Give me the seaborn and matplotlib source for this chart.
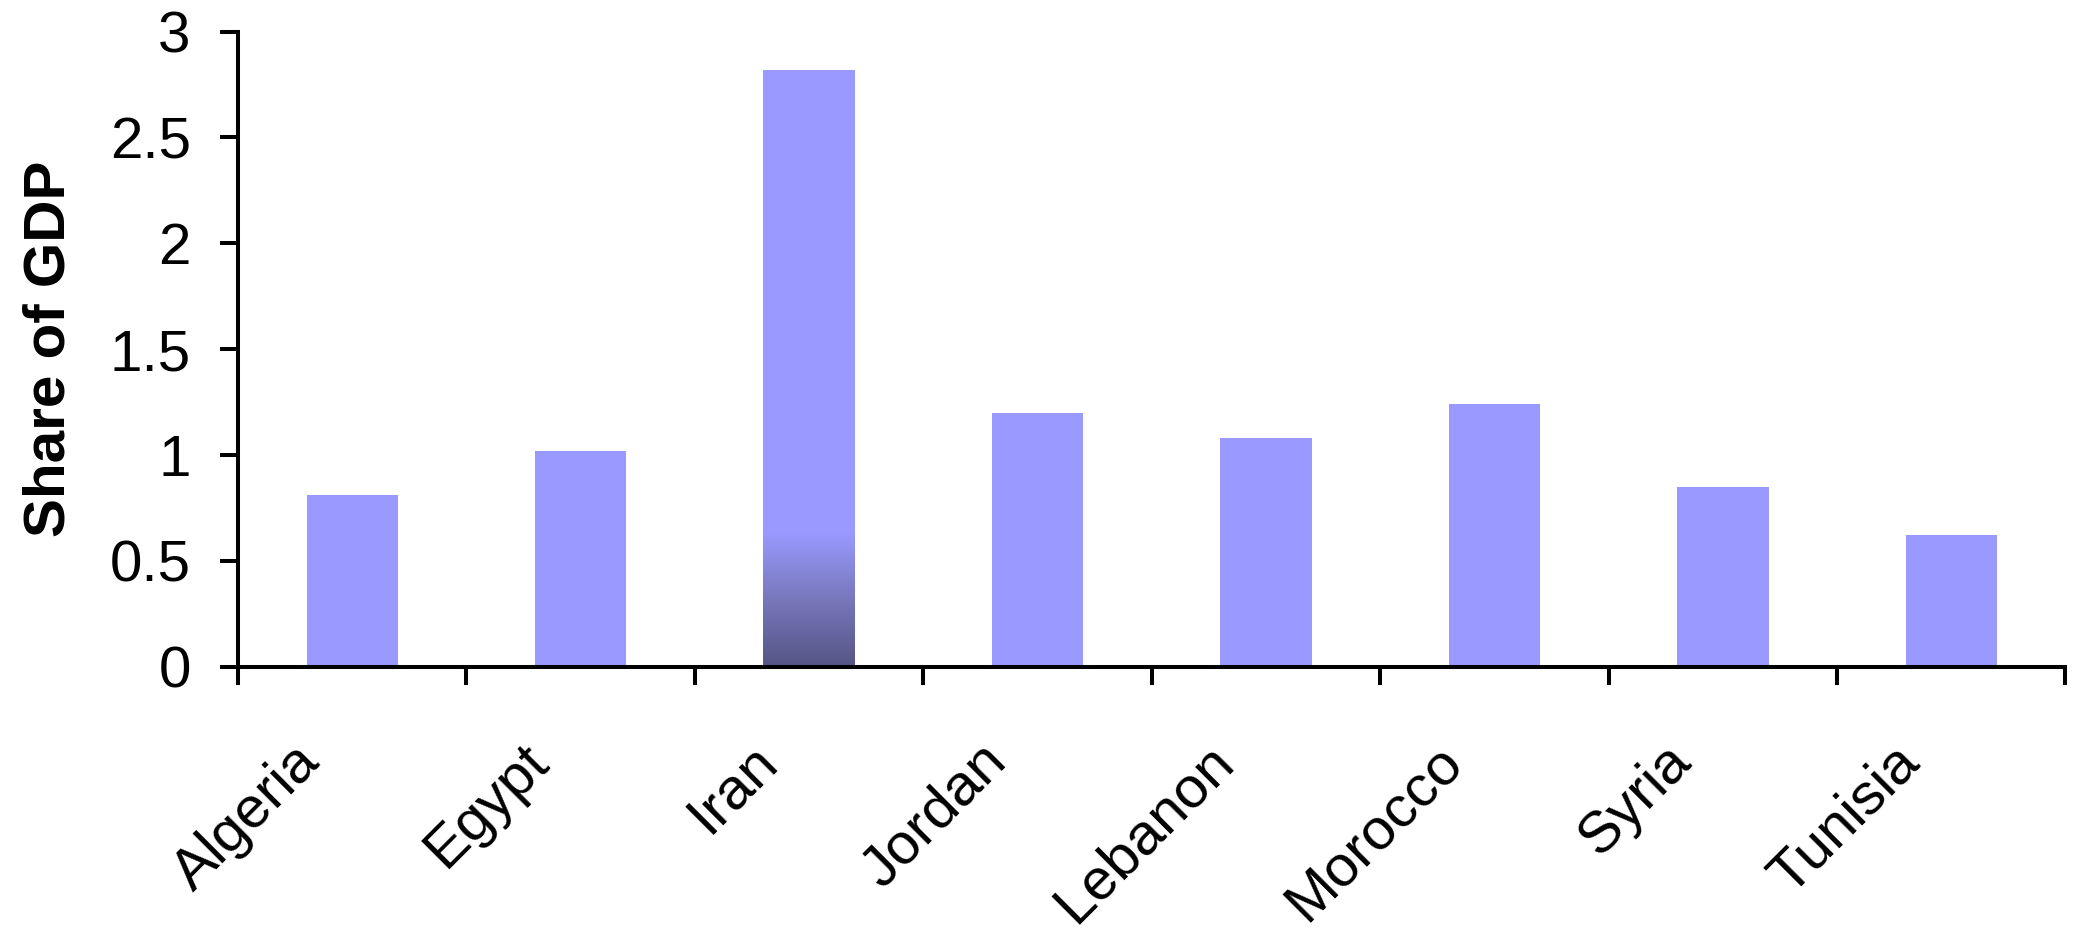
import matplotlib
matplotlib.use("Agg")
import matplotlib.pyplot as plt
import matplotlib.transforms as mtransforms
import numpy as np
import pandas as pd
import seaborn as sns
from matplotlib.colors import LinearSegmentedColormap

countries = ["Algeria", "Egypt", "Iran", "Jordan", "Lebanon", "Morocco", "Syria", "Tunisia"]
share_of_gdp = [0.81, 1.02, 2.82, 1.20, 1.08, 1.24, 0.85, 0.62]
y_ticks = [0, 0.5, 1, 1.5, 2, 2.5, 3]
y_tick_labels = ["0", "0.5", "1", "1.5", "2", "2.5", "3"]

sns.set_theme(style="white")
plt.rcParams["font.family"] = ["Liberation Sans", "DejaVu Sans"]
plt.rcParams["text.color"] = "black"

df = pd.DataFrame({"country": countries, "share": share_of_gdp})

fig = plt.figure(figsize=(20.79, 9.31), dpi=100)
ax = fig.add_axes([0.1145, 0.2840, 0.8790, 0.6820])

bar_color = "#9999ff"
sns.barplot(data=df, x="country", y="share", color=bar_color, width=0.4,
            saturation=1, ax=ax, linewidth=0)

# Shaded base on the highlighted bar
hl = countries.index("Iran")
patch = ax.patches[hl]
x0 = patch.get_x()
w = patch.get_width()
fade_top = 0.63
cmap = LinearSegmentedColormap.from_list("fade", ["#555585", "#7777bb", bar_color])
grad = np.linspace(0, 1, 256).reshape(-1, 1)
im = ax.imshow(grad, extent=(x0, x0 + w, 0, fade_top), origin="lower",
               cmap=cmap, aspect="auto", zorder=patch.get_zorder() + 0.1)
im.set_clip_path(patch)

ax.set_xlim(-0.5, len(countries) - 0.5)
ax.set_ylim(0, 3)
ax.set_yticks(y_ticks)
ax.set_yticklabels(y_tick_labels)

# Category labels at centres, tick marks at boundaries
ax.set_xticks(range(len(countries)))
ax.set_xticklabels(countries, rotation=45, ha="right", va="baseline",
                   rotation_mode="anchor")
ax.set_xticks(np.arange(-0.5, len(countries), 1.0), minor=True)
ax.tick_params(axis="x", which="major", length=0, pad=70, labelsize=42, colors="black")
ax.tick_params(axis="x", which="minor", length=13, width=2.9, direction="out",
               color="black", bottom=True)
ax.tick_params(axis="y", which="major", length=13, width=2.9, direction="out",
               pad=21, labelsize=42, colors="black", left=True)

shift = mtransforms.ScaledTranslation(-0.30, 0, fig.dpi_scale_trans)
for lab in ax.get_xticklabels():
    lab.set_transform(lab.get_transform() + shift)

ax.set_xlabel("")
ax.set_ylabel("Share of GDP", fontsize=42, fontweight="bold", labelpad=24,
              color="black")

for side in ["top", "right"]:
    ax.spines[side].set_visible(False)
for side in ["left", "bottom"]:
    ax.spines[side].set_color("black")
    ax.spines[side].set_linewidth(2.9)

fig.savefig("out.png", dpi=100, facecolor="white")
